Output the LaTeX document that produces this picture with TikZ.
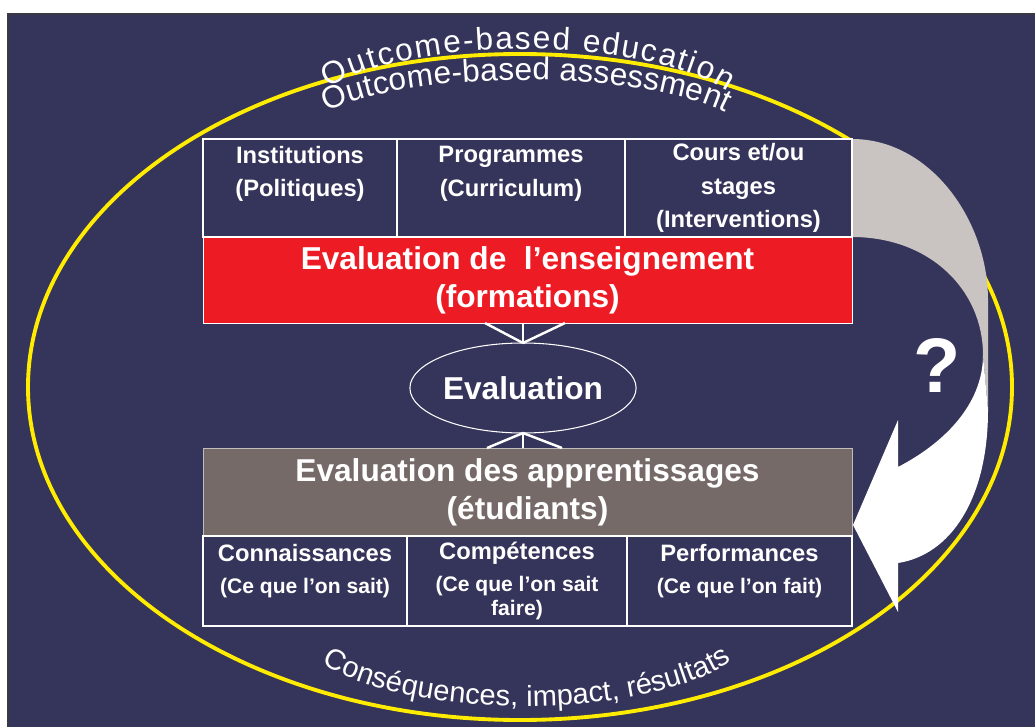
\documentclass[tikz,border=0pt]{standalone}
\usepackage{fontspec}
\setmainfont{Liberation Sans}
\usetikzlibrary{positioning,calc,decorations.text,shapes.geometric}

\definecolor{fond}{RGB}{53,53,91}
\definecolor{cadre}{RGB}{58,56,66}
\definecolor{jaune}{RGB}{255,236,0}
\definecolor{rouge}{RGB}{237,28,36}
\definecolor{taupe}{RGB}{117,106,103}
\definecolor{perle}{RGB}{201,196,193}
\definecolor{lisere}{RGB}{190,190,190}

\begin{document}
\begin{tikzpicture}[every node/.append style={align=center,text=white,inner sep=0pt,outer sep=0pt},cellh/.style={draw=white,line width=1pt,fill=fond,minimum height=1.96cm,font=\bfseries\fontsize{13.5}{19}\selectfont},cellb/.style={draw=white,line width=1pt,fill=fond,minimum height=1.8cm,font=\bfseries\fontsize{12}{18}\selectfont},bandeau/.style={draw=white,line width=0.5pt,minimum width=12.98cm,font=\bfseries\fontsize{18}{21.6}\selectfont},ovale/.style={ellipse,draw=white,line width=0.6pt,fill=fond,minimum width=4.38cm,minimum height=1.8cm,font=\bfseries\fontsize{18}{21.6}\selectfont},lien/.style={white,line width=1.4pt},]
    \useasboundingbox (0,0) rectangle (20.7,14.54);
    \fill[fond] (0.14,0) rectangle (20.7,14.28);
    \draw[cadre, line width=1.2pt] (0.16,0) |- (20.7,14.26);
    
    \draw[jaune, line width=2.2pt] (10.4,6.8) ellipse[x radius=9.84, y radius=6.66];
    
    % curved arrow on the right: grey back, white front with head
    \fill[perle] (17.04,11.76) .. controls (18.6,11.76) and (19.76,10.14) .. (19.76,8.54) -- (19.76,6.34) -- (19.66,7.44) .. controls (19.66,8.74) and (18.6,9.80) .. (17.04,9.80) -- cycle;
    \fill[white] (19.66,7.44) -- (19.76,6.34) .. controls (19.76,4.54) and (19.0,3.44) .. (17.96,3.28) -- (17.96,2.30) -- (17.06,4.04) -- (17.96,6.14) -- (17.96,5.20) .. controls (19.0,5.74) and (19.66,6.54) .. (19.66,7.44) -- cycle;
    \node[font=\bfseries\fontsize{44}{44}\selectfont] (quest) at (18.74,7.22) {?};
    
    % arched titles
    \coordinate (edu) at (10.5,12.06);
    \coordinate (ass) at (10.5,11.74);
    \coordinate (csq) at (10.5,2.02);
    \path[decorate,decoration={text along path,text color=white,text align={fit to path},text={|\fontsize{18}{18}\selectfont|Outcome-based education}}] ([shift={(151:4.5 and 1.5)}]edu) arc[start angle=151, end angle=26, x radius=4.5, y radius=1.5];
    \path[decorate,decoration={text along path,text color=white,text align={fit to path},text={|\fontsize{18}{18}\selectfont|Outcome-based assessment}}] ([shift={(152:4.5 and 1.2)}]ass) arc[start angle=152, end angle=27, x radius=4.5, y radius=1.2];
    \path[decorate,decoration={text along path,text color=white,text align={fit to path},text={|\fontsize{16.5}{16.5}\selectfont|Conséquences, impact, résultats}}] ([shift={(208:4.6 and 1.6)}]csq) arc[start angle=208, end angle=334, x radius=4.6, y radius=1.6];
    
    \node[bandeau, fill=rouge, minimum height=1.72cm] (enseig) at (10.55,8.94) {Evaluation de~ l’enseignement\\(formations)};
    \node[cellh, minimum width=3.88cm, above right=0cm of enseig.north west] (inst) {Institutions\\(Politiques)\\\mbox{}};
    \node[cellh, minimum width=4.56cm, right=0cm of inst] (prog) {Programmes\\(Curriculum)\\\mbox{}};
    \node[cellh, minimum width=4.54cm, right=0cm of prog] (cours) {Cours et/ou\\stages\\(Interventions)};
    
    \node[ovale, below=0.4cm of enseig, xshift=-0.09cm] (eval) {Evaluation};
    
    \node[bandeau, fill=taupe, draw=lisere, minimum height=1.76cm, below=2.5cm of enseig] (appr) {Evaluation des apprentissages\\(étudiants)};
    \node[cellb, minimum width=4.08cm, below right=0cm of appr.south west] (conn) {{\fontsize{13.5}{18}\selectfont Connaissances}\\(Ce que l’on sait)\\[-4pt]\mbox{}};
    \node[cellb, minimum width=4.4cm, right=0cm of conn] (comp) {{\fontsize{13.5}{18}\selectfont Compétences}\\(Ce que l’on sait\\[-4pt]faire)};
    \node[cellb, minimum width=4.5cm, right=0cm of comp] (perf) {{\fontsize{13.5}{18}\selectfont Performances}\\(Ce que l’on fait)\\[-4pt]\mbox{}};
    
    \draw[lien] (eval.north) -- ($(eval.north |- enseig.south)+(-0.76,0)$);
    \draw[lien] (eval.north) -- (eval.north |- enseig.south);
    \draw[lien] (eval.north) -- ($(eval.north |- enseig.south)+(0.84,0)$);
    \draw[lien] (eval.south) -- ($(eval.south |- appr.north)+(-0.72,0)$);
    \draw[lien] (eval.south) -- (eval.south |- appr.north);
    \draw[lien] (eval.south) -- ($(eval.south |- appr.north)+(0.78,0)$);
\end{tikzpicture}
\end{document}
